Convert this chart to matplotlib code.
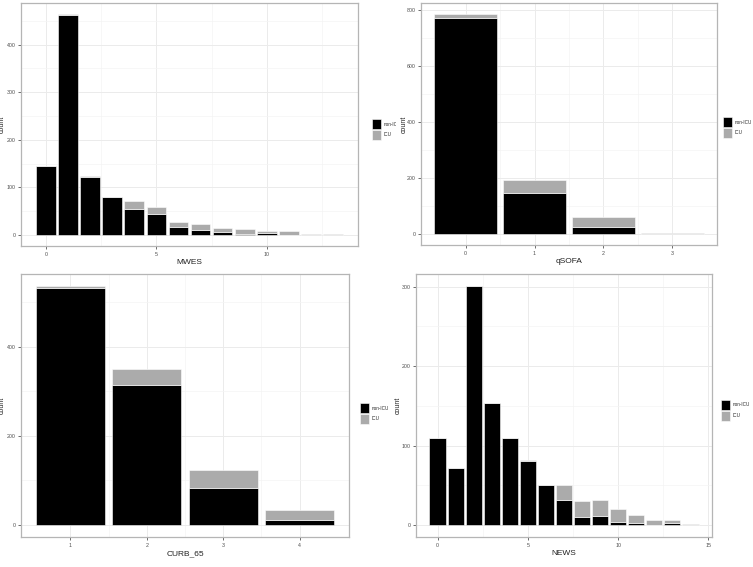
import matplotlib
matplotlib.use("Agg")
import matplotlib.pyplot as plt
from matplotlib.patches import Rectangle
from matplotlib.transforms import Bbox, TransformedBbox
import numpy as np

plt.rcParams['font.family'] = ['Liberation Sans', 'DejaVu Sans']

# data (stacked: non-ICU at bottom, ICU on top)
mwes_score = list(range(14))
mwes_non_icu = [145, 461, 121, 79, 54, 44, 16, 10, 7, 3, 5, 0, 0, 0]
mwes_icu = [0, 3, 3, 0, 17, 15, 12, 14, 8, 10, 3, 8, 1, 1]

qsofa_score = [0, 1, 2, 3]
qsofa_non_icu = [772, 147, 25, 1]
qsofa_icu = [13, 46, 36, 3]

curb_score = [1, 2, 3, 4]
curb_non_icu = [532, 315, 84, 11]
curb_icu = [4, 35, 40, 22]

news_score = list(range(15))
news_non_icu = [110, 72, 301, 154, 109, 80, 51, 31, 10, 12, 4, 3, 0, 2, 0]
news_icu = [0, 0, 0, 0, 0, 2, 0, 19, 20, 20, 16, 10, 6, 4, 1]

legend_labels = ["non-ICU", "ICU"]
BLACK = "black"
GREY = "#ABABAB"

W, H = 753, 567
fig = plt.figure(figsize=(W / 100, H / 100), dpi=100)


def px_axes(x0, y0, x1, y1):
    # pixel box (top-left origin) -> figure fraction
    return fig.add_axes([x0 / W, 1 - y1 / H, (x1 - x0) / W, (y1 - y0) / H])


def panel(ax, x, non_icu, icu, xlabel, xmajor, xminor, ymajor, yminor, ylab_x):
    x = np.array(x)
    non_icu = np.array(non_icu)
    icu = np.array(icu)
    ax.bar(x, non_icu, width=0.9, color=BLACK, edgecolor="white", linewidth=0.4, zorder=3)
    ax.bar(x, icu, width=0.9, bottom=non_icu, color=GREY, edgecolor="white", linewidth=0.4, zorder=3)
    total = (non_icu + icu).max()
    lo, hi = x.min() - 0.45, x.max() + 0.45
    pad = (hi - lo) * 0.05
    ax.set_xlim(lo - pad, hi + pad)
    ax.set_ylim(-total * 0.05, total * 1.05)
    ax.set_xticks(xmajor)
    ax.set_xticks(xminor, minor=True)
    ax.set_yticks(ymajor)
    ax.set_yticks(yminor, minor=True)
    ax.grid(which="major", color="#EBEBEB", linewidth=0.7, zorder=0)
    ax.grid(which="minor", color="#F4F4F4", linewidth=0.5, zorder=0)
    ax.set_axisbelow(True)
    ax.tick_params(which="major", length=2, width=0.5, color="#333333",
                   labelsize=3.8, labelcolor="#4D4D4D", pad=2)
    ax.tick_params(which="minor", length=0)
    for s in ax.spines.values():
        s.set_color("#B5B5B5")
        s.set_linewidth(0.9)
    ax.set_xlabel(xlabel, fontsize=6, color="#222222", labelpad=2)
    ax.set_ylabel("count", fontsize=5, color="#222222")
    # place the y title at a pixel x position like the reference
    x0 = ax.get_position().x0 * W
    ax.yaxis.set_label_coords((ylab_x - x0) / (ax.get_position().width * W), 0.5)


def legend(x, y, clip_right=None):
    for i, (lab, col) in enumerate(zip(legend_labels, [BLACK, GREY])):
        yy = y + i * 10.5
        fig.add_artist(Rectangle((x / W, 1 - (yy + 10) / H), 8.5 / W, 10 / H,
                                 transform=fig.transFigure, facecolor=col,
                                 edgecolor="white", linewidth=0.4))
        t = fig.text((x + 12) / W, 1 - (yy + 5) / H, lab, fontsize=3.3,
                     va="center", ha="left", color="#222222")
        if clip_right is not None:
            t.set_clip_box(TransformedBbox(Bbox([[0, 0], [clip_right / W, 1]]), fig.transFigure))
            t.set_clip_on(True)


ax1 = px_axes(21, 3, 358, 246)
panel(ax1, mwes_score, mwes_non_icu, mwes_icu, "MWES",
      [0, 5, 10], [2.5, 7.5, 12.5], [0, 100, 200, 300, 400], [50, 150, 250, 350, 450], 6)
legend(372, 119, clip_right=396)

ax2 = px_axes(421, 3, 717, 245)
panel(ax2, qsofa_score, qsofa_non_icu, qsofa_icu, "qSOFA",
      [0, 1, 2, 3], [0.5, 1.5, 2.5], [0, 200, 400, 600, 800], [100, 300, 500, 700], 408)
legend(723, 117)

ax3 = px_axes(21, 274, 349, 537)
panel(ax3, curb_score, curb_non_icu, curb_icu, "CURB_65",
      [1, 2, 3, 4], [1.5, 2.5, 3.5], [0, 200, 400], [100, 300, 500], 6)
legend(360, 403)

ax4 = px_axes(416, 274, 712, 537)
panel(ax4, news_score, news_non_icu, news_icu, "NEWS",
      [0, 5, 10, 15], [2.5, 7.5, 12.5], [0, 100, 200, 300], [50, 150, 250], 402)
legend(721, 400)

fig.savefig("out.png", dpi=100)
